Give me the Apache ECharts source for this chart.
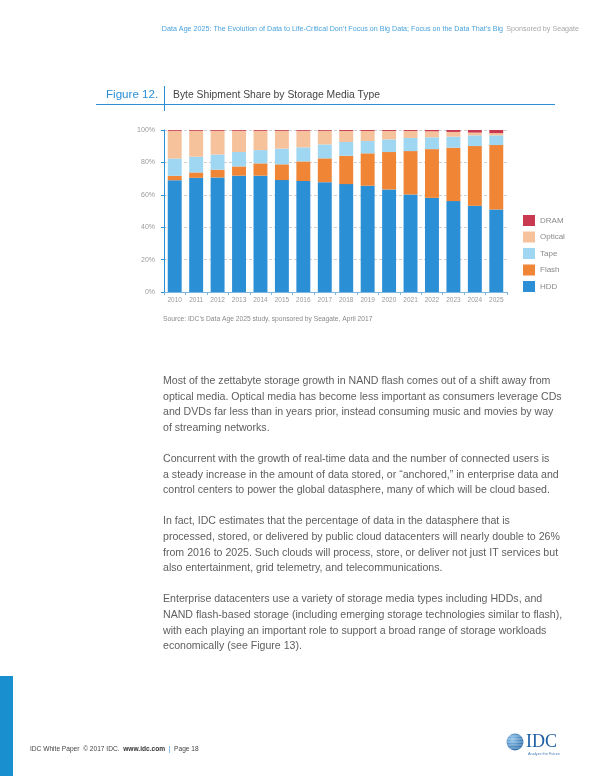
<!DOCTYPE html>
<html>
<head>
<meta charset="utf-8">
<script src="https://cdn.jsdelivr.net/npm/echarts@6/dist/echarts.min.js"></script>
<style>
html,body{margin:0;padding:0;background:#fff;}
#c{width:600px;height:776px;}
</style>
</head>
<body>
<div id="c"></div>
<script>
var years = ['2010','2011','2012','2013','2014','2015','2016','2017','2018','2019','2020','2021','2022','2023','2024','2025'];
var hdd     = [69.0, 70.5, 70.7, 71.8, 71.8, 69.1, 68.5, 67.8, 66.6, 65.6, 63.3, 60.2, 58.1, 56.1, 53.2, 50.9];
var flash   = [2.7, 3.3, 4.8, 5.7, 7.6, 9.7, 12.1, 14.7, 17.5, 20.0, 23.1, 26.8, 30.1, 33.0, 36.9, 39.8];
var tape    = [10.7, 9.7, 9.4, 8.9, 8.2, 9.7, 8.7, 8.6, 8.5, 7.6, 7.8, 8.1, 7.3, 6.8, 6.6, 6.0];
var optical = [17.1, 16.0, 14.6, 13.1, 11.9, 11.0, 10.2, 8.4, 6.8, 6.2, 5.2, 4.3, 3.7, 2.9, 1.7, 1.4];
var dram    = [0.5, 0.5, 0.5, 0.5, 0.5, 0.5, 0.5, 0.5, 0.6, 0.6, 0.6, 0.6, 0.8, 1.2, 1.6, 1.9];
var yTicks  = [0, 20, 40, 60, 80, 100];
var legendOrder = ['DRAM','Optical','Tape','Flash','HDD'];

var paragraphs = [
  ['Most of the zettabyte storage growth in NAND flash comes out of a shift away from',
   'optical media. Optical media has become less important as consumers leverage CDs',
   'and DVDs far less than in years prior, instead consuming music and movies by way',
   'of streaming networks.'],
  ['Concurrent with the growth of real-time data and the number of connected users is',
   'a steady increase in the amount of data stored, or \u201canchored,\u201d in enterprise data and',
   'control centers to power the global datasphere, many of which will be cloud based.'],
  ['In fact, IDC estimates that the percentage of data in the datasphere that is',
   'processed, stored, or delivered by public cloud datacenters will nearly double to 26%',
   'from 2016 to 2025. Such clouds will process, store, or deliver not just IT services but',
   'also entertainment, grid telemetry, and telecommunications.'],
  ['Enterprise datacenters use a variety of storage media types including HDDs, and',
   'NAND flash-based storage (including emerging storage technologies similar to flash),',
   'with each playing an important role to support a broad range of storage workloads',
   'economically (see Figure 13).']
];

var FONT = '"Liberation Sans", Arial, sans-serif';
var colors = {HDD:'#2b8fd6', Flash:'#ef8535', Tape:'#9fd6f2', Optical:'#f6c29c', DRAM:'#c93a52'};

var graphics = [];
// header
graphics.push({type:'text', x:579, y:29, style:{
  text:'{b|Data Age 2025: The Evolution of Data to Life-Critical Don\u2019t Focus on Big Data; Focus on the Data That\u2019s Big} {g|Sponsored by Seagate}',
  textAlign:'right', textVerticalAlign:'middle',
  rich:{b:{fill:'#4aa3dc', fontSize:7.15, fontFamily:FONT}, g:{fill:'#a8a8a8', fontSize:7.15, fontFamily:FONT}}
}});
// figure title
graphics.push({type:'text', x:106, y:95, style:{text:'Figure 12.', fill:'#2b8fd6', fontSize:11.6, fontFamily:FONT, textVerticalAlign:'middle'}});
graphics.push({type:'text', x:173, y:95, style:{text:'Byte Shipment Share by Storage Media Type', fill:'#444', fontSize:10.35, fontFamily:FONT, textVerticalAlign:'middle'}});
graphics.push({type:'line', shape:{x1:96, y1:104.5, x2:555, y2:104.5}, style:{stroke:'#2b8fd6', lineWidth:1}});
graphics.push({type:'line', shape:{x1:164.5, y1:86, x2:164.5, y2:111}, style:{stroke:'#2b8fd6', lineWidth:1}});
// source
graphics.push({type:'text', x:163, y:319, style:{text:'Source: IDC\u2019s Data Age 2025 study, sponsored by Seagate, April 2017', fill:'#8a8a8a', fontSize:6.7, fontFamily:FONT, textVerticalAlign:'middle'}});
// body
var lh = 15.6, k = 0;
paragraphs.forEach(function(p, pi){
  p.forEach(function(line){
    graphics.push({type:'text', x:163, y:381 + (k + pi) * lh, style:{text:line, fill:'#5e5e5e', fontSize:10.6, fontFamily:FONT, textVerticalAlign:'middle'}});
    k++;
  });
});
// footer
graphics.push({type:'rect', shape:{x:0, y:676, width:13, height:100}, style:{fill:'#1a8fd0'}});
graphics.push({type:'text', x:30, y:749, style:{
  text:'{n|IDC White Paper  \u00a9 2017 IDC.  }{b|www.idc.com}{s|  |  }{n|Page 18}',
  textVerticalAlign:'middle',
  rich:{n:{fill:'#444', fontSize:6.6, fontFamily:FONT}, b:{fill:'#333', fontSize:6.6, fontWeight:'bold', fontFamily:FONT}, s:{fill:'#2b8fd6', fontSize:6.6, fontFamily:FONT}}
}});
// IDC logo
graphics.push({type:'circle', shape:{cx:515, cy:742, r:8.5}, style:{fill:{type:'radial', x:0.35, y:0.35, r:0.8, colorStops:[{offset:0,color:'#8fc4ea'},{offset:1,color:'#1d5fa3'}]}}});
[736, 739, 742, 745, 748].forEach(function(yy){
  graphics.push({type:'line', shape:{x1:503, y1:yy, x2:526, y2:yy}, style:{stroke:'rgba(255,255,255,0.7)', lineWidth:0.6}});
});
graphics.push({type:'text', x:526, y:742, style:{text:'IDC', fill:'#1d5fa3', fontSize:18, fontFamily:'"Liberation Serif", serif', textVerticalAlign:'middle'}});
graphics.push({type:'text', x:528, y:753.5, style:{text:'Analyze the Future', fill:'#4a7fb8', fontSize:3.8, fontFamily:FONT, textVerticalAlign:'middle'}});

function mk(name, data){
  return {name:name, type:'bar', stack:'total', data:data, barWidth:'65%',
    itemStyle:{color:colors[name]}, emphasis:{disabled:true}};
}

var chart = echarts.init(document.getElementById('c'), null, {renderer:'canvas'});
chart.setOption({
  animation:false,
  backgroundColor:'#fff',
  textStyle:{fontFamily:FONT},
  grid:{left:164, right:93, top:130, bottom:484, containLabel:false},
  legend:{
    data:legendOrder, orient:'vertical', left:523, top:215, padding:0,
    itemWidth:12, itemHeight:11, itemGap:5.5, icon:'rect',
    textStyle:{color:'#8a8a8a', fontSize:8, fontFamily:FONT},
    selectedMode:false
  },
  xAxis:{
    type:'category', data:years,
    axisLine:{lineStyle:{color:'#7fb6de', width:1}},
    axisTick:{show:true, length:3, lineStyle:{color:'#7fb6de'}},
    axisLabel:{color:'#9a9a9a', fontSize:6.5, margin:5, interval:0}
  },
  yAxis:{
    type:'value', min:yTicks[0], max:yTicks[yTicks.length-1], interval:20,
    axisLine:{show:true, lineStyle:{color:'#2b8fd6', width:1}},
    axisTick:{show:true, length:3, lineStyle:{color:'#2b8fd6'}},
    axisLabel:{color:'#9a9a9a', fontSize:7, margin:9, formatter:'{value}%'},
    splitLine:{show:true, lineStyle:{color:'#cfcfcf', type:[3,2], width:1}}
  },
  series:[mk('HDD', hdd), mk('Flash', flash), mk('Tape', tape), mk('Optical', optical), mk('DRAM', dram)],
  graphic:graphics
});
</script>
</body>
</html>
